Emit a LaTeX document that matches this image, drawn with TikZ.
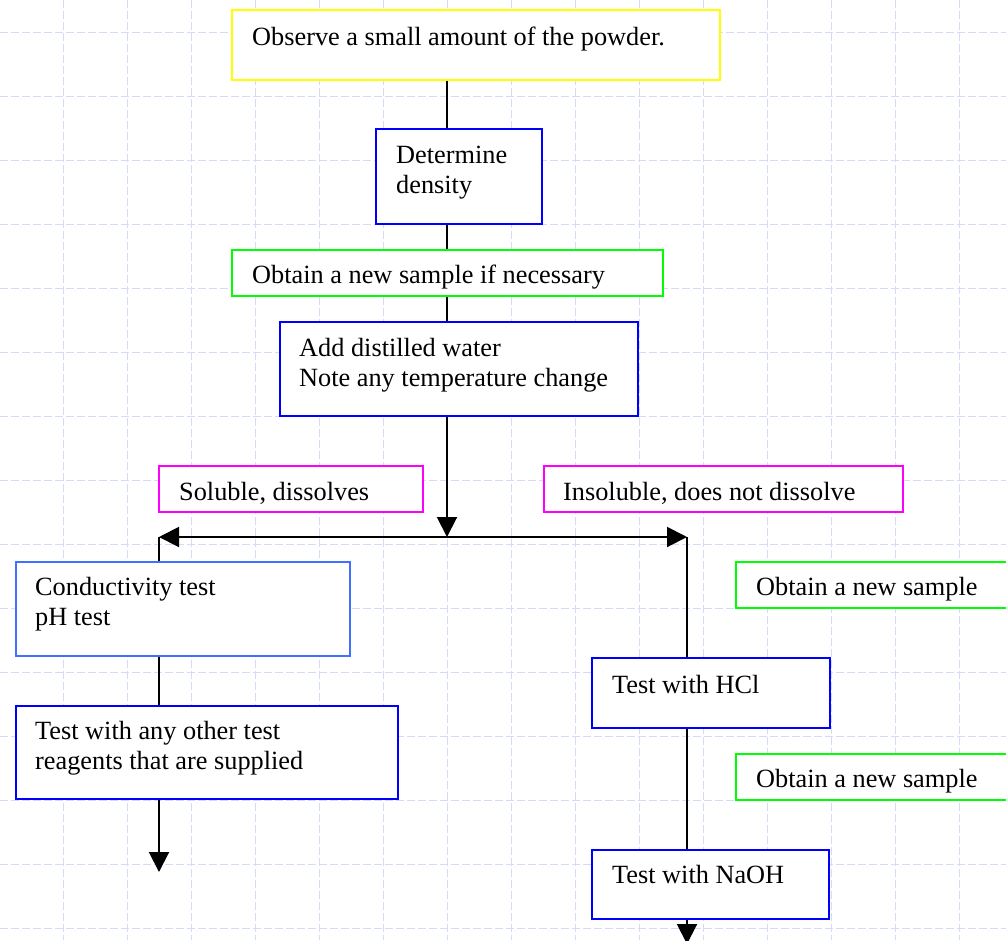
\documentclass[tikz,border=0pt]{standalone}
\usepackage{fontspec}
\setmainfont{Liberation Serif}
\usetikzlibrary{arrows.meta}
\definecolor{gridc}{RGB}{212,218,250}
\definecolor{pblue}{RGB}{0,0,255}
\definecolor{lblue}{RGB}{64,112,255}
\definecolor{pgreen}{RGB}{0,255,0}
\definecolor{pyellow}{RGB}{255,255,0}
\definecolor{pmag}{RGB}{255,0,255}
\tikzset{
  gridline/.style={draw=gridc, line width=0.9pt, dash pattern=on 8pt off 3pt},
  bx/.style={draw=#1, fill=white, line width=1.7pt, inner sep=0pt, anchor=north west},
  txt/.style={anchor=base west, inner sep=0pt, font=\fontsize{26.3}{30}\selectfont},
  ln/.style={line width=2pt, black},
  arr/.style={ln, -{Triangle[width=20pt,length=20pt]}}
}
\begin{document}
\begin{tikzpicture}[x=1pt,y=-1pt]
\useasboundingbox (0,0) rectangle (1006,940);
\fill[white] (0,0) rectangle (1006,940);
% grid
\foreach \k in {0,...,16} { \draw[gridline] ({-1+64*\k},0) -- ({-1+64*\k},940); }
\foreach \k in {0,...,14} { \draw[gridline] (0,{32+64*\k}) -- (1006,{32+64*\k}); }
% boxes
\node[bx=pyellow, minimum width=488pt, minimum height=70pt] (obs) at (231,9) {};
\node[txt] (obst) at (252,45) {Observe a small amount of the powder.};
\node[bx=pblue, minimum width=166pt, minimum height=95pt] (dens) at (375,128) {};
\node[txt] (denst) at (396,163) {\begin{tabular}[t]{@{}l@{}}Determine\\density\end{tabular}};
\node[bx=pgreen, minimum width=431pt, minimum height=46pt] (samp) at (231,249) {};
\node[txt] (sampt) at (252,283) {Obtain a new sample if necessary};
\node[bx=pblue, minimum width=358pt, minimum height=94pt] (add) at (279,321) {};
\node[txt] (addt) at (299,356) {\begin{tabular}[t]{@{}l@{}}Add distilled water\\Note any temperature change\end{tabular}};
\node[bx=pmag, minimum width=264pt, minimum height=46pt] (sol) at (158,465) {};
\node[txt] (solt) at (179,500) {Soluble, dissolves};
\node[bx=pmag, minimum width=359pt, minimum height=46pt] (ins) at (543,465) {};
\node[txt] (inst) at (563,500) {Insoluble, does not dissolve};
\node[bx=lblue, minimum width=334pt, minimum height=94pt] (cond) at (15,561) {};
\node[txt] (condt) at (35,595) {\begin{tabular}[t]{@{}l@{}}Conductivity test\\pH test\end{tabular}};
\node[bx=pblue, minimum width=382pt, minimum height=93pt] (oth) at (15,705) {};
\node[txt] (otht) at (35,739) {\begin{tabular}[t]{@{}l@{}}Test with any other test\\reagents that are supplied\end{tabular}};
\node[bx=pgreen, minimum width=280pt, minimum height=46pt] (new1) at (735,561) {};
\node[txt] (new1t) at (756,595) {Obtain a new sample};
\node[bx=pblue, minimum width=238pt, minimum height=70pt] (hcl) at (591,657) {};
\node[txt] (hclt) at (612,693) {Test with HCl};
\node[bx=pgreen, minimum width=280pt, minimum height=46pt] (new2) at (735,753) {};
\node[txt] (new2t) at (756,787) {Obtain a new sample};
\node[bx=pblue, minimum width=237pt, minimum height=69pt] (naoh) at (591,849) {};
\node[txt] (naoht) at (612,883) {Test with NaOH};
% connector coordinates
\coordinate (cx) at (447,0);
\coordinate (j) at (447,537);
\coordinate (jl) at (159,537);
\coordinate (jr) at (687,537);
\coordinate (endl) at (159,872);
\coordinate (endr) at (687,944);
% connectors
\draw[ln] (obs.south -| cx) -- (dens.north -| cx);
\draw[ln] (dens.south -| cx) -- (samp.north -| cx);
\draw[ln] (samp.south -| cx) -- (add.north -| cx);
\draw[arr] (add.south -| cx) -- (j);
\draw[arr] (j) -- (jl);
\draw[arr] (j) -- (jr);
\draw[ln] (jl) -- (cond.north -| jl);
\draw[ln] (jr) -- (hcl.north -| jr);
\draw[ln] (cond.south -| jl) -- (oth.north -| jl);
\draw[arr] (oth.south -| jl) -- (endl);
\draw[ln] (hcl.south -| jr) -- (naoh.north -| jr);
\draw[arr] (naoh.south -| jr) -- (endr);
\end{tikzpicture}
\end{document}
